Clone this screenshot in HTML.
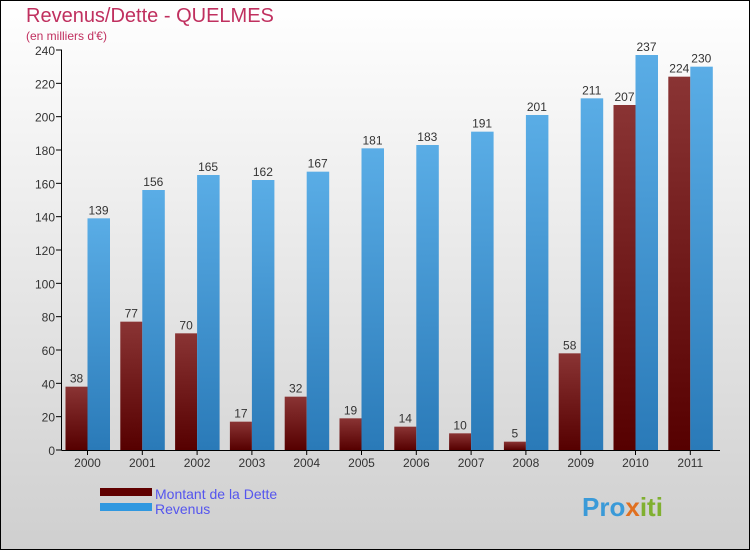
<!DOCTYPE html>
<html><head><meta charset="utf-8"><style>
body{margin:0}
#c{width:750px;height:550px;position:relative;font-family:"Liberation Sans",sans-serif;background:linear-gradient(#ffffff,#cfcfcf);border:1px solid #000;box-sizing:border-box;overflow:hidden}
</style></head><body>
<div id="c">
<svg id="s" width="750" height="550" style="position:absolute;left:-1px;top:-1px">
<defs>
<linearGradient id="gd" x1="0" y1="0" x2="0" y2="1"><stop offset="0" stop-color="#8a3434"/><stop offset="1" stop-color="#560000"/></linearGradient>
<linearGradient id="gr" x1="0" y1="0" x2="0" y2="1"><stop offset="0" stop-color="#5aade6"/><stop offset="1" stop-color="#2a7ab8"/></linearGradient>
</defs>
<text x="26" y="22" font-size="20" fill="#c0305f">Revenus/Dette - QUELMES</text>
<text x="26" y="40" font-size="12" fill="#c0305f">(en milliers d'€)</text>
<g id="plot"></g>
<rect x="100" y="488" width="52" height="8" fill="#600000"/>
<rect x="100" y="503" width="52" height="8" fill="#3098e0"/>
<text x="155" y="499" font-size="14" fill="#5555ee">Montant de la Dette</text>
<text x="155" y="514" font-size="14" fill="#5555ee">Revenus</text>
<text x="582" y="516" font-size="26" font-weight="bold" fill="#3a9ad8">Pro<tspan fill="#e07020">x</tspan><tspan fill="#80b030">iti</tspan></text>
</svg>
</div>
<script>
const years=["2000","2001","2002","2003","2004","2005","2006","2007","2008","2009","2010","2011"];
const dette=[38,77,70,17,32,19,14,10,5,58,207,224];
const revenus=[139,156,165,162,167,181,183,191,201,211,237,230];
const ticks=[0,20,40,60,80,100,120,140,160,180,200,220,240];
const NS="http://www.w3.org/2000/svg";
const g=document.getElementById('plot');
const x0=62,gw=54.8,y0=450,ys=400/240;
const Y=v=>y0-v*ys, X=i=>x0+i*gw;
function mk(t,a){const e=document.createElementNS(NS,t);for(const k in a)e.setAttribute(k,a[k]);g.appendChild(e);return e;}
ticks.forEach(t=>{
 const l=mk('line',{x1:56,x2:62,y1:Y(t),y2:Y(t),stroke:'#000'});
 
 
 const tx=mk('text',{x:55,y:Y(t)+5,'text-anchor':'end','font-size':12,fill:'#333'});tx.textContent=t;
 
 
});
years.forEach((y,i)=>{
 const bx=X(i)+3.5;
 const b1=mk('rect',{x:bx,y:Y(dette[i]),width:22,height:dette[i]*ys,fill:'url(#gd)'});
 
 
 const b2=mk('rect',{x:bx+22,y:Y(revenus[i]),width:22.5,height:revenus[i]*ys,fill:'url(#gr)'});
 
 
 const t1=mk('text',{x:bx+11,y:Y(dette[i])-4,'text-anchor':'middle','font-size':12,fill:'#333'});t1.textContent=dette[i];
 
 
 const t2=mk('text',{x:bx+33,y:Y(revenus[i])-4,'text-anchor':'middle','font-size':12,fill:'#333'});t2.textContent=revenus[i];
 
 
 const tk=mk('line',{x1:bx+22,x2:bx+22,y1:450,y2:455,stroke:'#000'});
 
 
 const xl=mk('text',{x:bx+22,y:467,'text-anchor':'middle','font-size':12,fill:'#333'});xl.textContent=y;
 
 
});
const ya=mk('line',{x1:61.5,x2:61.5,y1:50,y2:450,stroke:'#000'});


const xa=mk('line',{x1:61.5,x2:720,y1:450.5,y2:450.5,stroke:'#000'});


</script>
</body></html>
